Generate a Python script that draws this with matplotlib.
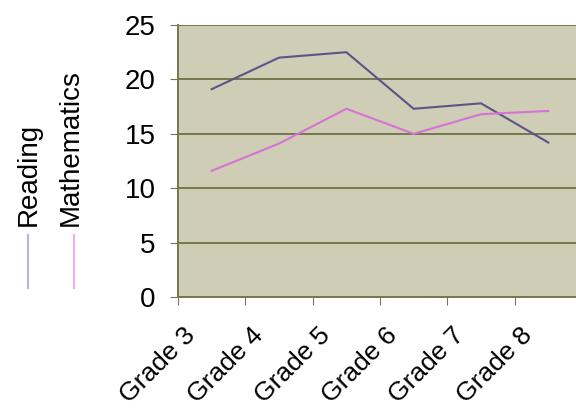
import numpy as np
import matplotlib.pyplot as plt
import matplotlib.transforms as mtransforms

plt.rcParams['font.family'] = ['Liberation Sans', 'DejaVu Sans']

grades = ['Grade 3', 'Grade 4', 'Grade 5', 'Grade 6', 'Grade 7', 'Grade 8']
reading = [19.1, 22.0, 22.5, 17.3, 17.8, 14.2]
mathematics = [11.6, 14.1, 17.3, 15.0, 16.8, 17.1]
yticks = [0, 5, 10, 15, 20, 25]

fig = plt.figure(figsize=(5.76, 4.13), dpi=100)
ax = fig.add_axes([178/576, 116/413, 404/576, 272/413])
ax.set_facecolor('#cfcdb5')

x = np.arange(len(grades)) + 0.5
ax.plot(x, reading, color='#5a5488', lw=1.5)
ax.plot(x, mathematics, color='#d673d6', lw=1.5)

ax.set_xlim(0, len(grades))
ax.set_ylim(0, 25)
ax.set_yticks(yticks)
ax.yaxis.grid(True, color='#77774f', lw=1.4)
ax.set_axisbelow(True)
ax.tick_params(axis='y', labelsize=20, length=6, color='#77774f', pad=10)

# ticks on category edges, labels in the middle
ax.set_xticks(np.arange(len(grades) + 1))
ax.set_xticklabels([])
ax.set_xticks(x, minor=True)
ax.set_xticklabels(grades, minor=True, rotation=45, ha='right', va='center',
                   rotation_mode='anchor', fontsize=19)
ax.tick_params(axis='x', which='minor', length=0, pad=25)
ax.tick_params(axis='x', which='major', length=6, color='#77774f')
shift = mtransforms.ScaledTranslation(-20/100, 0, fig.dpi_scale_trans)
for lab in ax.xaxis.get_minorticklabels():
    lab.set_transform(lab.get_transform() + shift)

for s in ['top', 'right']:
    ax.spines[s].set_visible(False)
for s in ['left', 'bottom']:
    ax.spines[s].set_color('#77774f')
    ax.spines[s].set_linewidth(1.4)

# vertical legend on the left
fig.text(29/576, 1 - 226/413, 'Reading', rotation=90, fontsize=20, ha='center', va='bottom')
fig.text(71/576, 1 - 226/413, 'Mathematics', rotation=90, fontsize=20, ha='center', va='bottom')
fig.add_artist(plt.Line2D([28/576, 28/576], [1 - 235/413, 1 - 288/413], color='#b8b4dc', lw=1.5))
fig.add_artist(plt.Line2D([74/576, 74/576], [1 - 235/413, 1 - 288/413], color='#eab0ea', lw=1.5))

plt.savefig('out.png', dpi=100)
